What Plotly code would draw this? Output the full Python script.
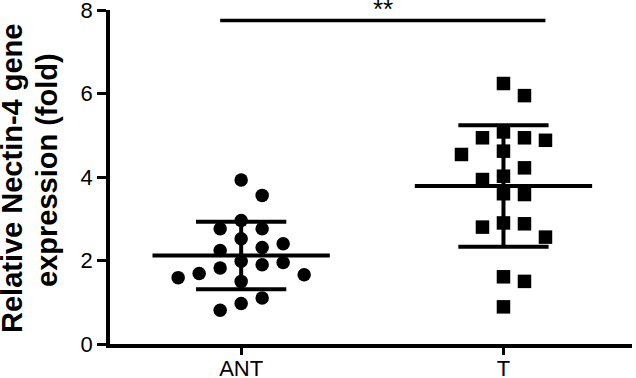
import numpy as np
import plotly.graph_objects as go

# ---------------- data ----------------
categories = ["ANT", "T"]
ant_values = [3.93, 3.56, 2.96, 2.76, 2.76, 2.52, 2.40, 2.31, 2.24, 1.98,
              1.95, 1.90, 1.82, 1.69, 1.66, 1.59, 1.50, 1.10, 0.97, 0.81]
t_values = [6.24, 5.95, 5.08, 4.94, 4.94, 4.88, 4.62, 4.54, 4.22, 4.02,
            3.94, 3.60, 3.58, 2.90, 2.88, 2.80, 2.56, 1.61, 1.50, 0.89]
y_ticks = [0, 2, 4, 6, 8]
significance = "**"
title_lines = ["Relative Nectin-4 gene", "expression (fold)"]

# ---------------- layout constants ----------------
W, H = 636, 378
ML, MR, MT, MB = 110, 4, 10, 34
XR = [-0.5, 1.49]
YR = [0, 8.001]
FONT = "Liberation Sans, Arial, sans-serif"

px_x = (W - ML - MR) / (XR[1] - XR[0])
px_y = (H - MT - MB) / (YR[1] - YR[0])


def swarm(vals, diam=17.0, step=21.0):
    """simple beeswarm: greedy placement on a column grid (pixels -> data units)"""
    order = np.argsort(vals)[::-1]
    placed = []
    offs = np.zeros(len(vals))
    cands = [0]
    for k in range(1, 10):
        cands += [k, -k]
    for i in order:
        yp = vals[i] * px_y
        for c in cands:
            xp = c * step
            if all(np.hypot(xp - a, yp - b) >= diam for a, b in placed):
                placed.append((xp, yp))
                offs[i] = xp / px_x
                break
    return offs


fig = go.Figure()

groups = [(0, ant_values, "circle", 13.5), (1, t_values, "square", 13.5)]
mean_half = 0.338
cap_half = 0.172

for xi, vals, sym, size in groups:
    v = np.array(vals)
    xs = xi + swarm(v)
    fig.add_trace(go.Scatter(
        x=xs, y=v, mode="markers",
        marker=dict(symbol=sym, size=size, color="black", line=dict(width=0)),
        showlegend=False, hoverinfo="y"))
    m = v.mean()
    s = v.std(ddof=1)
    line = dict(color="black", width=4)
    fig.add_trace(go.Scatter(x=[xi - mean_half, xi + mean_half], y=[m, m],
                             mode="lines", line=line, showlegend=False))
    fig.add_trace(go.Scatter(x=[xi, xi], y=[m - s, m + s],
                             mode="lines", line=line, showlegend=False))
    for yy in (m - s, m + s):
        fig.add_trace(go.Scatter(x=[xi - cap_half, xi + cap_half], y=[yy, yy],
                                 mode="lines", line=line, showlegend=False))

# significance bar
sig_y = 7.75
fig.add_shape(type="line", xref="x", yref="y", x0=-0.08, x1=1.16, y0=sig_y, y1=sig_y,
              line=dict(color="black", width=3.5))
fig.add_annotation(x=0.54, y=8.0, xref="x", yref="y", text=significance,
                   showarrow=False, yanchor="middle", yshift=1,
                   font=dict(family=FONT, size=26, color="black"))

# y-axis title (two rotated lines)
for txt, xs_, ys_ in zip(title_lines, [-98, -63], [-2, 7]):
    fig.add_annotation(x=0, y=0.5, xref="paper", yref="paper", text=txt,
                       showarrow=False, textangle=-90, xanchor="center", yanchor="middle",
                       xshift=xs_, yshift=ys_,
                       font=dict(family=FONT, size=29, color="black", weight="bold"))

fig.update_layout(
    width=W, height=H,
    margin=dict(l=ML, r=MR, t=MT, b=MB),
    paper_bgcolor="white", plot_bgcolor="white",
    font=dict(family=FONT, color="black"),
    xaxis=dict(range=XR, tickvals=[0, 1], ticktext=categories, automargin=False,
               showline=True, linewidth=3.5, linecolor="black",
               ticks="outside", ticklen=7, tickwidth=3, tickcolor="black",
               showgrid=False, zeroline=False, ticklabeloverflow="allow",
               ticklabelstandoff=-5,
               tickfont=dict(family=FONT, size=22, color="black")),
    yaxis=dict(range=YR, tickvals=y_ticks, automargin=False,
               showline=True, linewidth=3.5, linecolor="black",
               ticks="outside", ticklen=9, tickwidth=3, tickcolor="black",
               showgrid=False, zeroline=False, ticklabeloverflow="allow",
               tickfont=dict(family=FONT, size=22, color="black")),
)

fig.write_html("out.html", config={"displayModeBar": False},
               post_script="document.body.style.margin='0';document.body.style.padding='0';")
